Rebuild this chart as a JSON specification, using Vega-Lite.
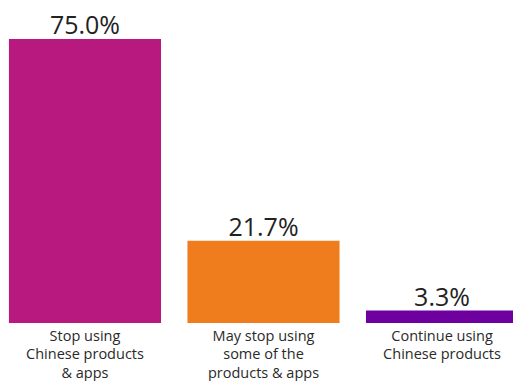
{
  "$schema": "https://vega.github.io/schema/vega-lite/v6.json",
  "width": 527,
  "height": 323,
  "padding": {"top": 0, "left": 0, "right": 0, "bottom": 58},
  "autosize": {"type": "none"},
  "background": "white",
  "config": {"view": {"stroke": null}, "font": "Open Sans"},
  "data": {"values": [
    {"answer": "Stop using|Chinese products|& apps", "share": 0.75, "c": "a"},
    {"answer": "May stop using|some of the|products & apps", "share": 0.217, "c": "b"},
    {"answer": "Continue using|Chinese products", "share": 0.033, "c": "c"}
  ]},
  "encoding": {
    "x": {"field": "answer", "type": "nominal", "sort": null,
      "scale": {"paddingInner": 0.148, "paddingOuter": 0.05},
      "axis": {"title": null, "labelAngle": 0, "ticks": false, "domain": false,
        "labelExpr": "split(datum.label, '|')", "labelFontSize": 14.5, "labelColor": "#2a2a2a",
        "labelLineHeight": 18.5, "labelPadding": 6, "labelFont": "Open Sans", "labelBaseline": "top"}},
    "y": {"field": "share", "type": "quantitative", "scale": {"domain": [0, 0.853], "nice": false}, "axis": null}
  },
  "layer": [
    {"mark": {"type": "bar"},
      "encoding": {"color": {"field": "c", "type": "nominal", "legend": null,
        "scale": {"domain": ["a", "b", "c"], "range": ["#B8197F", "#F07D1D", "#6E00A0"]}}}},
    {"mark": {"type": "text", "baseline": "alphabetic", "dy": -5, "fontSize": 25, "color": "#222", "font": "Open Sans"},
      "encoding": {"text": {"field": "share", "type": "quantitative", "format": ".1%"}}}
  ]
}
